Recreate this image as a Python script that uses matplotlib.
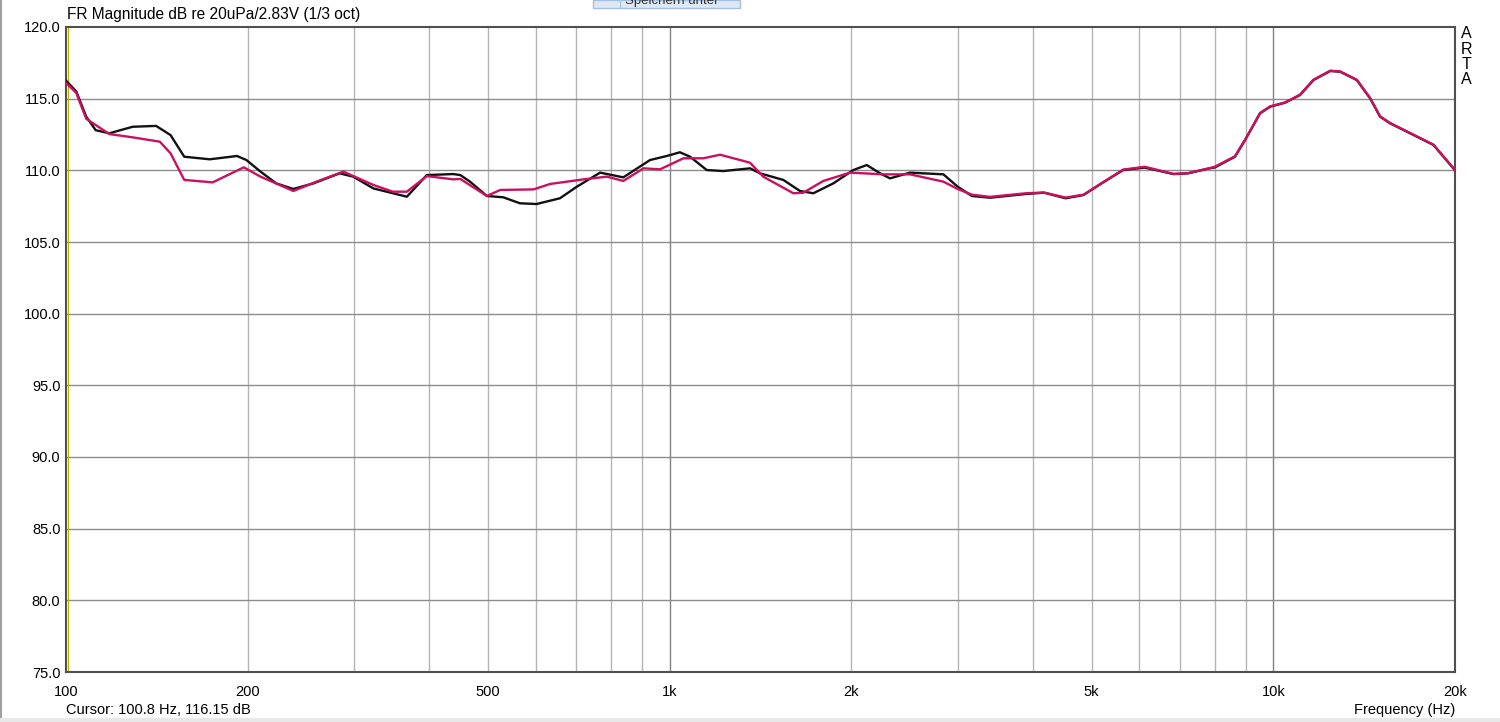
import numpy as np
import matplotlib
matplotlib.use('Agg')
import matplotlib.pyplot as plt
import matplotlib.patches as mpl_patches

plt.rcParams['font.family'] = ['Liberation Sans', 'DejaVu Sans']

# frequency response curves
aFreq_black = [100, 104, 108, 112, 118, 123, 129, 141, 149, 157, 173, 192, 199, 210, 223, 238,
               257, 284, 299, 323, 348, 367, 396, 438, 450, 467, 498, 530, 565, 602, 658, 702,
               767, 838, 928, 989, 1040, 1081, 1152, 1227, 1359, 1412, 1543, 1644, 1730, 1867,
               2015, 2121, 2232, 2318, 2502, 2841, 3000, 3168, 3394, 3893, 4171, 4529, 4850,
               5193, 5639, 6124, 6835, 7222, 7842, 8000, 8640, 8982, 9509, 9878, 10462, 11077,
               11655, 12424, 12906, 13752, 14468, 15031, 15615, 17290, 18422, 19140, 20000]
aSpl_black = [116.26, 115.5, 113.75, 112.8, 112.58, 112.8, 113.04, 113.1, 112.46, 110.95, 110.77,
              111.0, 110.72, 109.91, 109.09, 108.7, 109.09, 109.79, 109.56, 108.74, 108.4, 108.16,
              109.67, 109.74, 109.67, 109.21, 108.21, 108.12, 107.7, 107.65, 108.05, 108.86,
              109.84, 109.51, 110.72, 111.0, 111.26, 110.95, 110.02, 109.95, 110.14, 109.79,
              109.33, 108.56, 108.4, 109.09, 110.02, 110.37, 109.79, 109.44, 109.84, 109.72,
              108.86, 108.21, 108.09, 108.35, 108.44, 108.05, 108.28, 109.09, 110.02, 110.19,
              109.74, 109.79, 110.14, 110.2, 110.95, 112.12, 113.98, 114.44, 114.72, 115.26,
              116.3, 116.93, 116.88, 116.3, 115.02, 113.74, 113.28, 112.35, 111.77, 110.95, 110.0]

aFreq_pink = [100, 104, 108, 118, 129, 143, 149, 157, 175, 197, 210, 238, 260, 288, 323, 348,
              367, 396, 438, 450, 498, 524, 595, 634, 720, 787, 838, 905, 964, 1054, 1137, 1212,
              1308, 1359, 1429, 1603, 1665, 1797, 1990, 2260, 2502, 2841, 3000, 3168, 3394, 3893,
              4171, 4529, 4850, 5193, 5639, 6124, 6835, 7222, 7842, 8000, 8640, 8982, 9509, 9878,
              10462, 11077, 11655, 12424, 12906, 13752, 14468, 15031, 15615, 17290, 18422, 19140,
              20000]
aSpl_pink = [116.1, 115.4, 113.6, 112.53, 112.3, 112.0, 111.19, 109.33, 109.16, 110.21, 109.56,
             108.56, 109.21, 109.91, 108.98, 108.51, 108.51, 109.6, 109.37, 109.4, 108.21, 108.63,
             108.67, 109.05, 109.37, 109.56, 109.26, 110.14, 110.07, 110.84, 110.84, 111.09,
             110.72, 110.53, 109.56, 108.4, 108.44, 109.26, 109.84, 109.72, 109.72, 109.21, 108.7,
             108.3, 108.15, 108.4, 108.45, 108.1, 108.3, 109.1, 110.05, 110.25, 109.75, 109.8,
             110.15, 110.25, 110.98, 112.15, 114.0, 114.46, 114.74, 115.28, 116.32, 116.95,
             116.9, 116.32, 115.04, 113.76, 113.3, 112.37, 111.79, 110.97, 110.02]

aTick_x = [100, 200, 500, 1000, 2000, 5000, 10000, 20000]
aTick_x_label = ['100', '200', '500', '1k', '2k', '5k', '10k', '20k']
aTick_y = np.arange(75, 121, 5)

sTitle = 'FR Magnitude dB re 20uPa/2.83V (1/3 oct)'
sCursor = 'Cursor: 100.8 Hz, 116.15 dB'
dCursor_freq = 100.8

fig = plt.figure(figsize=(15, 7.22), dpi=100)
fig.patch.set_facecolor('white')

ax = fig.add_axes([66 / 1500, 1 - 672 / 722, 1389 / 1500, 645 / 722])
ax.set_xscale('log')
ax.set_xlim(100, 20000)
ax.set_ylim(75, 120)

# grid: minor verticals light, decades + horizontals darker
aMinor = [f for d in (100, 1000, 10000) for f in np.arange(2, 10) * d if f < 20000]
for f in aMinor:
    ax.axvline(f, color='#b4b4b4', lw=1.0, zorder=1)
for f in (1000, 10000):
    ax.axvline(f, color='#808080', lw=1.0, zorder=1)
for y in aTick_y[1:-1]:
    ax.axhline(y, color='#8c8c8c', lw=1.0, zorder=1)

ax.axvline(dCursor_freq, color='#b8b000', lw=0.9, zorder=2)

ax.plot(aFreq_black, aSpl_black, color='#111111', lw=1.7, zorder=3)
ax.plot(aFreq_pink, aSpl_pink, color='#cc1060', lw=1.7, zorder=4)

ax.set_xticks(aTick_x)
ax.set_xticklabels(aTick_x_label)
ax.xaxis.set_minor_locator(plt.NullLocator())
ax.set_yticks(aTick_y)
ax.set_yticklabels(['%.1f' % y for y in aTick_y])
ax.tick_params(length=0, labelsize=10.5, colors='black')
ax.tick_params(axis='x', pad=9)
ax.tick_params(axis='y', pad=4)
for s in ax.spines.values():
    s.set_color('#505050')
    s.set_linewidth(1.5)

fig.text(67 / 1500, 1 - 15 / 722, sTitle, fontsize=11.2, ha='left', va='center')
fig.text(66 / 1500, 1 - 710 / 722, sCursor, fontsize=10.5, ha='left', va='center')
fig.text(1455 / 1500, 1 - 710 / 722, 'Frequency (Hz)', fontsize=10.5, ha='right', va='center')
for i, c in enumerate('ARTA'):
    fig.text(1466 / 1500, 1 - (34 + i * 15.3) / 722, c, fontsize=11.5, ha='center', va='center')

# window chrome around the screenshot
fig.add_artist(mpl_patches.Rectangle((0, 0), 2 / 1500, 1, transform=fig.transFigure,
                                     fc='#a0a0a0', ec='none'))
fig.add_artist(mpl_patches.Rectangle((0, 0), 1, 4 / 722, transform=fig.transFigure,
                                     fc='#e8e8e8', ec='none'))
oMenu = mpl_patches.Rectangle((593 / 1500, 1 - 8 / 722), 147 / 1500, 8 / 722,
                              transform=fig.transFigure, fc='#dde8f6', ec='#a8bfdc', lw=1)
fig.add_artist(oMenu)
fig.add_artist(mpl_patches.Rectangle((620 / 1500, 1 - 8 / 722), 1 / 1500, 8 / 722,
                                     transform=fig.transFigure, fc='#a8bfdc', ec='none'))
tMenu = fig.text(625 / 1500, 1 - 1 / 722, 'Speichern unter', fontsize=9.5, ha='left',
                 va='center', color='#333333')
tMenu.set_clip_path(oMenu)

plt.savefig('out.png', dpi=100)
plt.close('all')
